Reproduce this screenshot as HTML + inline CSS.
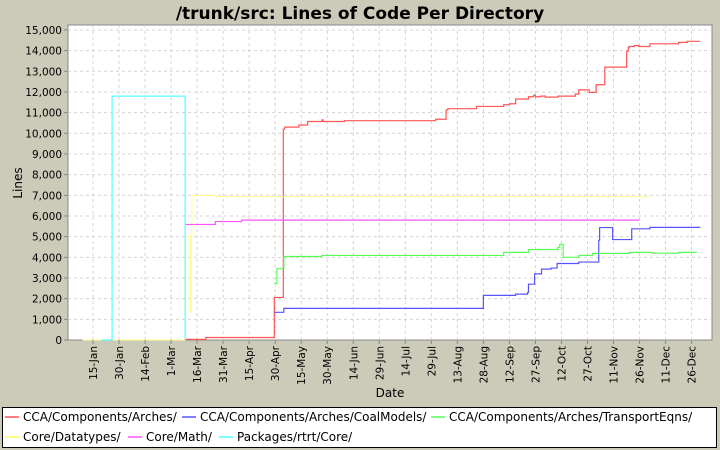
<!DOCTYPE html>
<html><head><meta charset="utf-8"><style>
body{margin:0;background:#cccbba;}
svg{display:block;font-family:"DejaVu Sans","Liberation Sans",sans-serif;}
</style></head><body>
<svg id="chart" width="720" height="450" viewBox="0 0 720 450" xmlns="http://www.w3.org/2000/svg">
<rect x="0" y="0" width="720" height="450" fill="#cccbba"/>
<text x="360" y="19" text-anchor="middle" font-size="17" font-weight="bold" fill="#000">/trunk/src: Lines of Code Per Directory</text>
<rect x="68" y="25" width="644" height="315" fill="#fff" stroke="#888"/>
<g id="grid"></g>
<g id="series"></g>
<g id="axes"></g>
<text x="390" y="397" text-anchor="middle" font-size="12">Date</text>
<text transform="translate(22,183) rotate(-90)" text-anchor="middle" font-size="12">Lines</text>
<g>
<rect x="2.5" y="407.5" width="714" height="40" fill="#fff" stroke="#000"/>
<g id="legend"></g>
</g>
</svg>
<script>
const yTicks=[0,1000,2000,3000,4000,5000,6000,7000,8000,9000,10000,11000,12000,13000,14000,15000];
const xTickDays=[15,30,45,60,75,90,105,120,135,150,165,180,195,210,225,240,255,270,285,300,315,330,345,360];
const xTickLabels=["15-Jan","30-Jan","14-Feb","1-Mar","16-Mar","31-Mar","15-Apr","30-Apr","15-May","30-May","14-Jun","29-Jun","14-Jul","29-Jul","13-Aug","28-Aug","12-Sep","27-Sep","12-Oct","27-Oct","11-Nov","26-Nov","11-Dec","26-Dec"];
const seriesNames=["CCA/Components/Arches/","CCA/Components/Arches/CoalModels/","CCA/Components/Arches/TransportEqns/","Core/Datatypes/","Core/Math/","Packages/rtrt/Core/"];
const seriesColors=["#ff5555","#5555ff","#55ff55","#ffff55","#ff55ff","#55ffff"];
const redDays=[68,80,119.5,124.7,125.5,133.7,138.7,147,147.6,160,212.5,218.5,219.5,236,251.7,255,258.6,266,269,270,273,275.7,283,293,295,301,305,310,322.6,323.5,324,327,329.5,336,352.5,357.5,365];
const redVals=[30,120,2060,10200,10300,10400,10570,10650,10570,10610,10680,11130,11190,11300,11380,11430,11660,11770,11850,11770,11800,11750,11800,11900,12100,11980,12350,13200,13980,14150,14200,14250,14200,14330,14400,14450,14450];
const blueDays=[119.5,125,240,258.6,265.5,266,269.5,273.5,279,282.5,295,306.5,307,314.5,325.5,336,365];
const blueVals=[1340,1530,2160,2220,2300,2700,3200,3430,3480,3700,3770,4830,5440,4860,5380,5450,5450];
const greenDays=[119.5,121,125,146.8,251.7,266,283,284,286,295,303,324,337,352.5,363];
const greenVals=[2740,3450,4040,4090,4240,4380,4480,4620,4000,4090,4190,4240,4200,4240,4240];
const yellowDays=[9,68,71,71.6,72,86,336];
const yellowVals=[0,5020,1350,5020,6990,6930,6930];
const pinkDays=[68,85.5,100.7,330];
const pinkVals=[5590,5730,5800,5800];
const cyanDays=[20,26,68,68.1];
const cyanVals=[0,11800,11800,0];
const seriesDays=[redDays,blueDays,greenDays,yellowDays,pinkDays,cyanDays];
const seriesVals=[redVals,blueVals,greenVals,yellowVals,pinkVals,cyanVals];

const NS="http://www.w3.org/2000/svg";
const X0=68,X1=712,Y0=340;
function xs(d){return 93+(d-15)*1.735;}
function ys(v){return Y0-v*0.02067;}
function mk(t,a,p){const e=document.createElementNS(NS,t);for(const k in a)e.setAttribute(k,a[k]);p.appendChild(e);return e;}
const grid=document.getElementById('grid'),axes=document.getElementById('axes'),ser=document.getElementById('series'),leg=document.getElementById('legend');
yTicks.forEach(v=>{
  const y=ys(v);
  if(v>0){const g=mk('line',{x1:X0,x2:X1,y1:y,y2:y,stroke:'#d4d4d4','stroke-dasharray':'3,3'},grid);
  
  }
  const t=mk('line',{x1:X0-4,x2:X0,y1:y,y2:y,stroke:'#888'},axes);
  
  
  const l=mk('text',{x:X0-6,y:y+4,'text-anchor':'end','font-size':'10.5'},axes);
  l.textContent=v.toLocaleString('en-US');
  
  
});
xTickDays.forEach((d,i)=>{
  const x=xs(d);
  const g=mk('line',{x1:x,x2:x,y1:25,y2:Y0,stroke:'#d4d4d4','stroke-dasharray':'3,3'},grid);
  
  
  const t=mk('line',{x1:x,x2:x,y1:Y0,y2:Y0+4,stroke:'#888'},axes);
  
  
  const l=mk('text',{transform:`translate(${x+4},${Y0+6}) rotate(-90)`,'text-anchor':'end','font-size':'10.5'},axes);
  l.textContent=xTickLabels[i];
  
  
});
seriesDays.forEach((days,s)=>{
  const vals=seriesVals[s];
  let d='M'+xs(days[0])+','+ys(vals[0]);
  for(let i=1;i<days.length;i++){d+=' H'+xs(days[i])+' V'+ys(vals[i]);}
  const p=mk('path',{d:d,fill:'none',stroke:s===3?'#ffff88':seriesColors[s],'stroke-width':s===3?1:1.2},ser);
  
  
});
const legPos=[[5,421],[182,421],[431,421],[5,441],[128,441],[219,441]];
seriesNames.forEach((n,s)=>{
  const [x,y]=legPos[s];
  const g=mk('g',{},leg);
  
  
  mk('line',{x1:x,x2:x+14,y1:y-4,y2:y-4,stroke:seriesColors[s],'stroke-width':1.5},g);
  const t=mk('text',{x:x+18,y:y,'font-size':'12'},g);
  t.textContent=n;
});
</script>
</body></html>
